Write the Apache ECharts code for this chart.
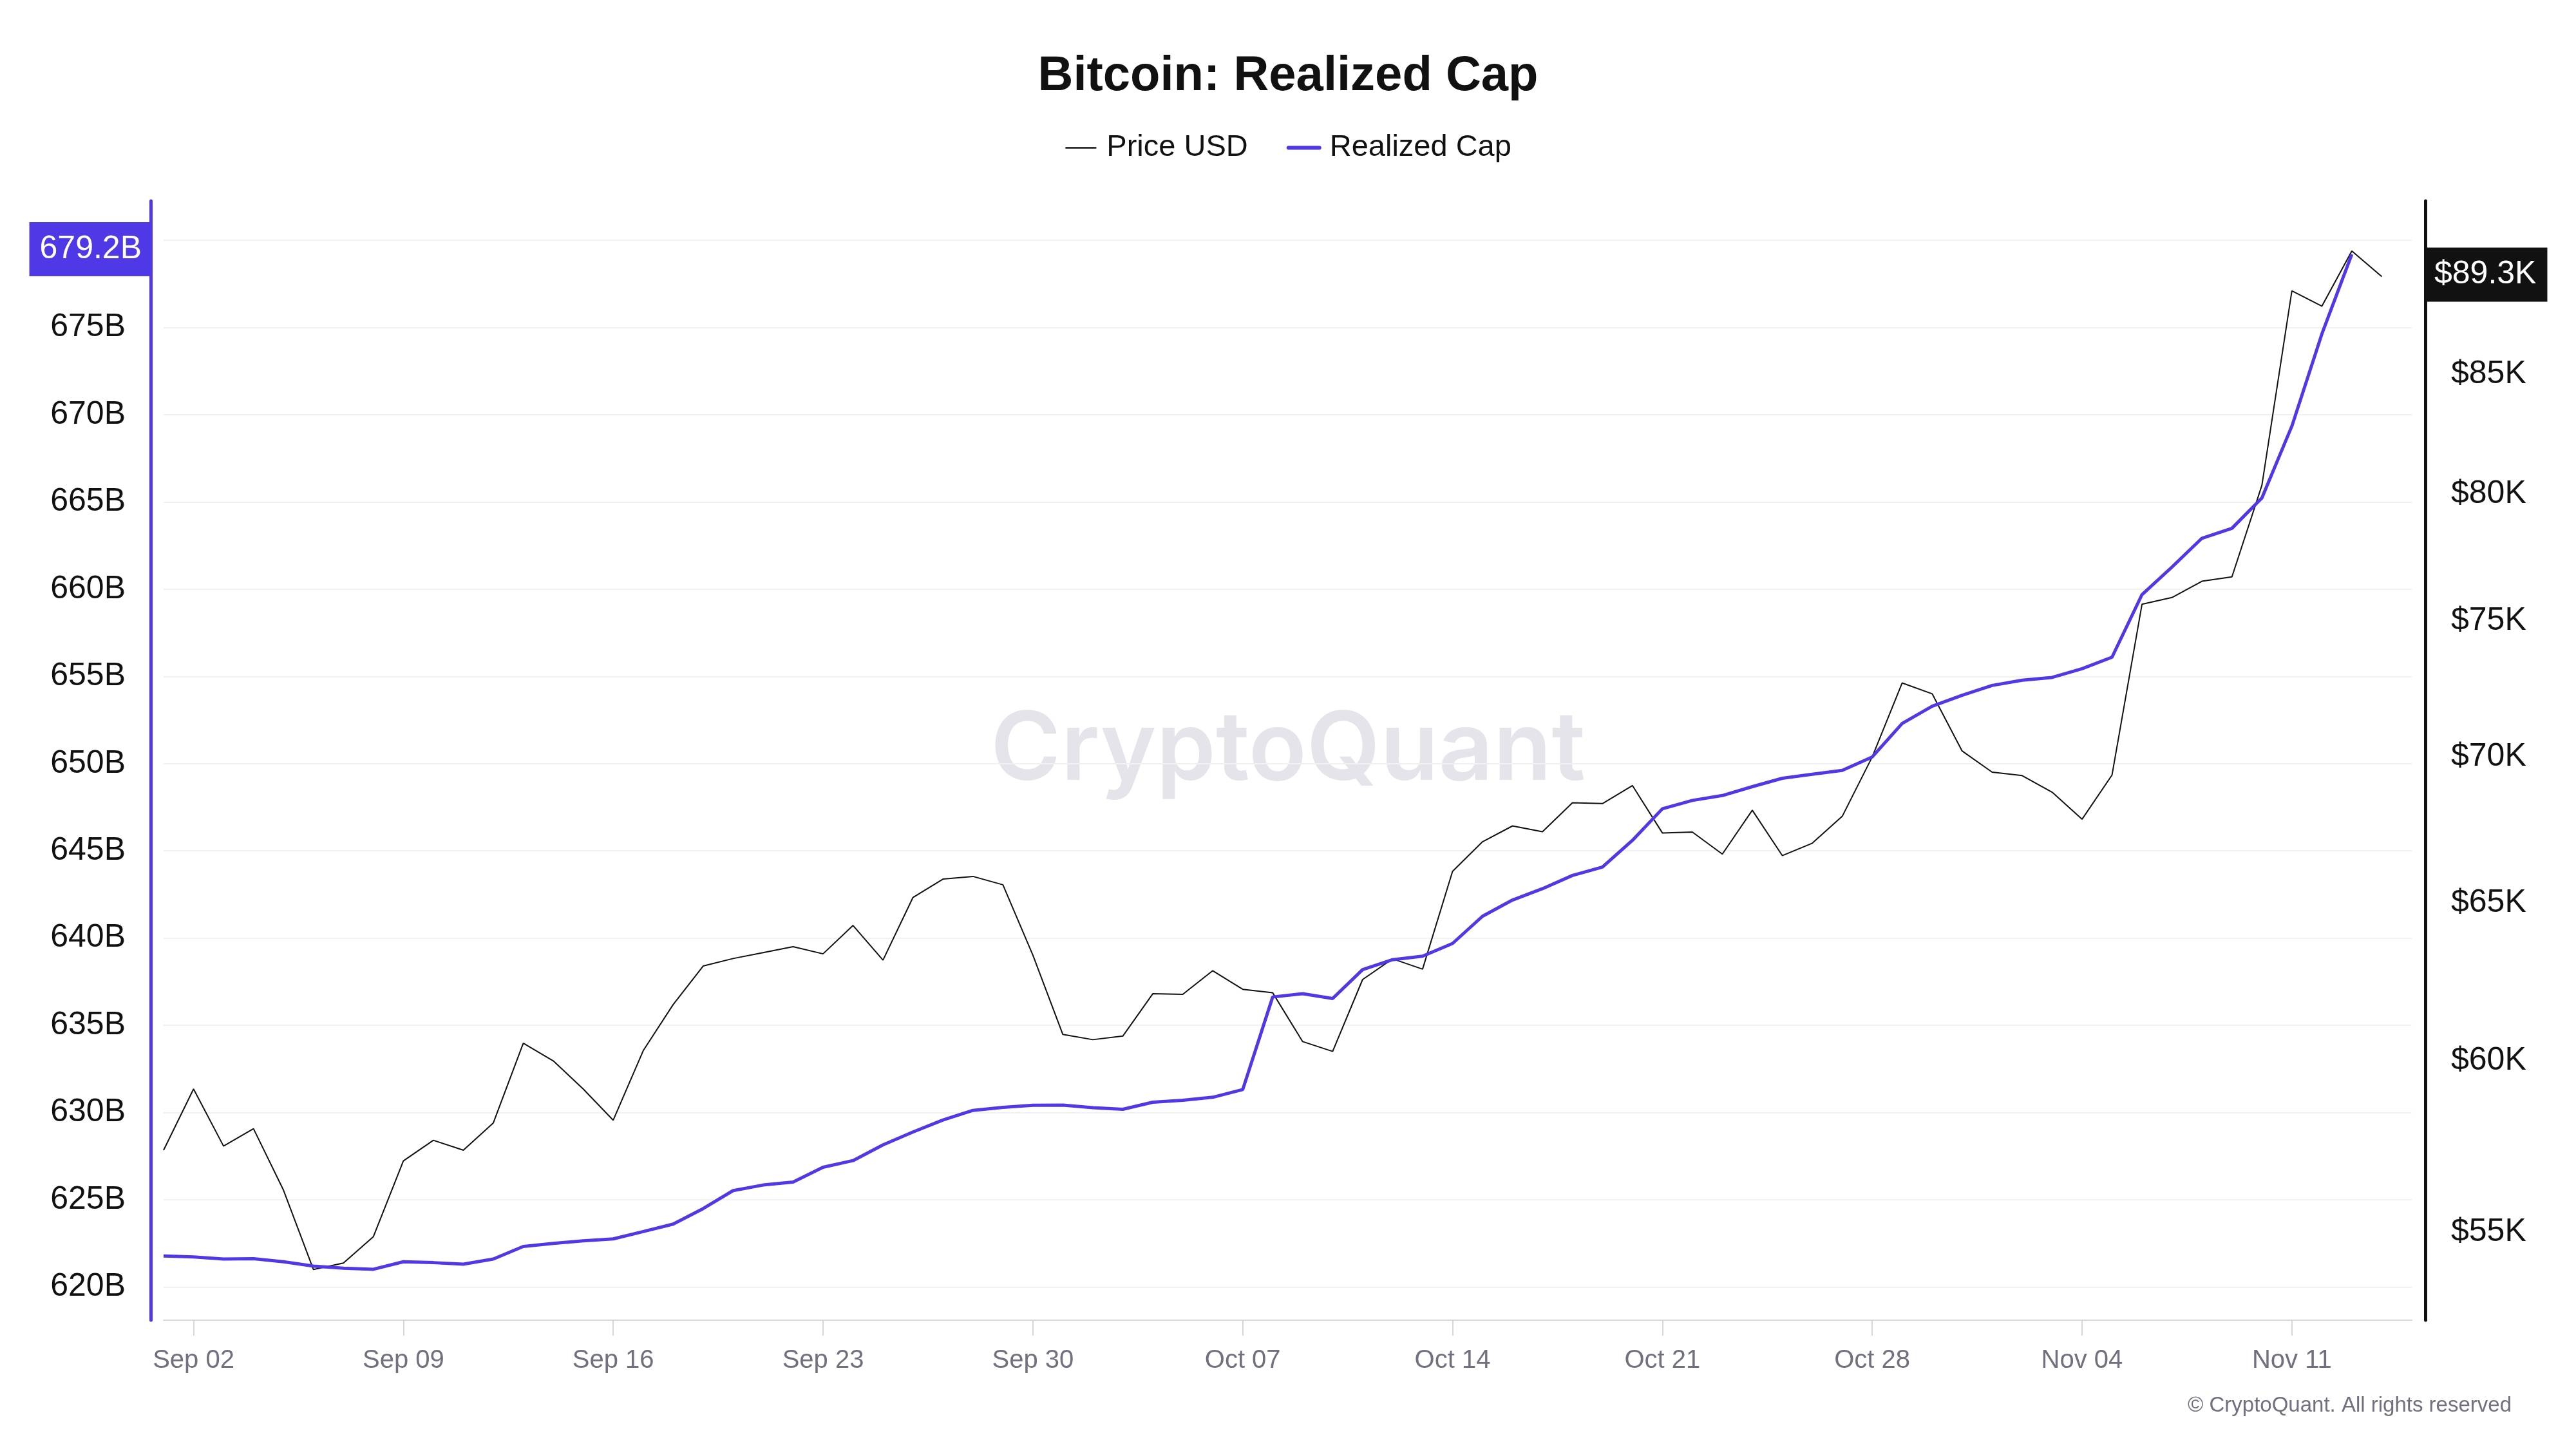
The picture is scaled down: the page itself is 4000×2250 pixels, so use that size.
<!DOCTYPE html>
<html>
<head>
<meta charset="utf-8">
<script src="https://cdn.jsdelivr.net/npm/echarts@6/dist/echarts.min.js"></script>
<style>
html,body{margin:0;padding:0;background:#ffffff;}
#chart{width:4000px;height:2250px;}
</style>
</head>
<body>
<div id="chart"></div>
<script>
// ---- Data ----
const dates = [
  'Sep 01','Sep 02','Sep 03','Sep 04','Sep 05','Sep 06','Sep 07','Sep 08','Sep 09','Sep 10',
  'Sep 11','Sep 12','Sep 13','Sep 14','Sep 15','Sep 16','Sep 17','Sep 18','Sep 19','Sep 20',
  'Sep 21','Sep 22','Sep 23','Sep 24','Sep 25','Sep 26','Sep 27','Sep 28','Sep 29','Sep 30',
  'Oct 01','Oct 02','Oct 03','Oct 04','Oct 05','Oct 06','Oct 07','Oct 08','Oct 09','Oct 10',
  'Oct 11','Oct 12','Oct 13','Oct 14','Oct 15','Oct 16','Oct 17','Oct 18','Oct 19','Oct 20',
  'Oct 21','Oct 22','Oct 23','Oct 24','Oct 25','Oct 26','Oct 27','Oct 28','Oct 29','Oct 30',
  'Oct 31','Nov 01','Nov 02','Nov 03','Nov 04','Nov 05','Nov 06','Nov 07','Nov 08','Nov 09',
  'Nov 10','Nov 11','Nov 12','Nov 13','Nov 14','Nov 15'
];
const xTickLabels = ['Sep 02','Sep 09','Sep 16','Sep 23','Sep 30','Oct 07','Oct 14','Oct 21','Oct 28','Nov 04','Nov 11'];

// Price USD (right axis, log scale)
const priceUSD = [
  57330, 59140, 57450, 57960, 56180, 53960, 54140, 54870, 57020, 57620,
  57330, 58130, 60530, 59990, 59140, 58210, 60300, 61730, 62950, 63190,
  63380, 63570, 63340, 64260, 63140, 65180, 65790, 65880, 65600, 63300,
  60800, 60640, 60750, 62070, 62050, 62800, 62210, 62100, 60580, 60280,
  62520, 63180, 62850, 66050, 67050, 67590, 67390, 68390, 68360, 68990,
  67350, 67380, 66630, 68130, 66580, 67000, 67920, 70000, 72680, 72280,
  70210, 69460, 69340, 68760, 67820, 69360, 75640, 75900, 76530, 76700,
  80350, 88690, 88000, 90500, 89330
];

// Realized Cap in billions USD (left axis)
const realizedCapB = [
  621.77, 621.72, 621.60, 621.62, 621.44, 621.19, 621.07, 621.01, 621.44, 621.39,
  621.30, 621.60, 622.32, 622.49, 622.64, 622.75, 623.17, 623.60, 624.49, 625.52,
  625.84, 626.01, 626.86, 627.24, 628.14, 628.88, 629.57, 630.12, 630.29, 630.41,
  630.42, 630.27, 630.18, 630.59, 630.70, 630.87, 631.31, 636.62, 636.81, 636.53,
  638.19, 638.76, 638.96, 639.69, 641.25, 642.18, 642.83, 643.59, 644.07, 645.60,
  647.41, 647.89, 648.17, 648.68, 649.16, 649.39, 649.61, 650.38, 652.30, 653.29,
  653.92, 654.48, 654.78, 654.94, 655.44, 656.10, 659.69, 661.27, 662.92, 663.49,
  665.23, 669.35, 674.63, 679.20
];

const leftTicks = [620, 625, 630, 635, 640, 645, 650, 655, 660, 665, 670, 675, 680];
const leftTickLabels = [620, 625, 630, 635, 640, 645, 650, 655, 660, 665, 670, 675];
const rightTickLabels = [55000, 60000, 65000, 70000, 75000, 80000, 85000];

const lastCap = realizedCapB[realizedCapB.length - 1];
const lastPrice = priceUSD[priceUSD.length - 1];

const FONT = '"Liberation Sans", Arial, sans-serif';
const PURPLE = '#4f39e6';
const INK = '#111111';

const chart = echarts.init(document.getElementById('chart'), null, {renderer: 'canvas', width: 4000, height: 2250});

chart.setOption({
  animation: false,
  backgroundColor: '#ffffff',
  textStyle: {fontFamily: FONT},
  title: {
    text: 'Bitcoin: Realized Cap',
    left: 'center',
    top: 76,
    textStyle: {fontSize: 76, fontWeight: 'bold', color: INK, fontFamily: FONT}
  },
  legend: {
    top: 201,
    left: 'center',
    itemWidth: 48,
    itemHeight: 20,
    itemGap: 60,
    itemStyle: {opacity: 0},
    textStyle: {fontSize: 47, color: INK, fontFamily: FONT, padding: [0, 0, 0, 11]},
    data: [
      {name: 'Price USD', lineStyle: {width: 2.5, color: INK}},
      {name: 'Realized Cap', lineStyle: {width: 6, color: PURPLE, cap: 'round'}}
    ]
  },
  grid: {left: 254, right: 255, top: 312, bottom: 200, containLabel: false},
  xAxis: {
    type: 'category',
    data: dates,
    boundaryGap: false,
    axisLine: {show: true, lineStyle: {color: '#d6d6de', width: 2}},
    axisTick: {
      show: true,
      length: 24,
      interval: function (idx, val) { return xTickLabels.indexOf(val) >= 0; },
      lineStyle: {color: '#d6d6de', width: 2}
    },
    axisLabel: {
      interval: function (idx, val) { return xTickLabels.indexOf(val) >= 0; },
      fontSize: 40,
      color: '#70707e',
      margin: 43,
      fontFamily: FONT
    },
    splitLine: {show: false}
  },
  yAxis: [
    {
      type: 'value',
      position: 'left',
      offset: 20,
      min: 618.09,
      max: 682.26,
      axisLine: {show: true, lineStyle: {color: PURPLE, width: 5}},
      axisTick: {show: false, customValues: leftTicks},
      axisLabel: {
        customValues: leftTickLabels,
        formatter: function (v) { return v + 'B'; },
        fontSize: 50,
        color: INK,
        margin: 39,
        fontFamily: FONT
      },
      splitLine: {show: true, lineStyle: {color: '#f1f1f4', width: 2}}
    },
    {
      type: 'log',
      logBase: 10,
      position: 'right',
      offset: 21,
      min: 52590,
      max: 92830,
      axisLine: {show: true, lineStyle: {color: INK, width: 5}},
      axisTick: {show: false, customValues: rightTickLabels},
      axisLabel: {
        customValues: rightTickLabels,
        formatter: function (v) { return '$' + Math.round(v / 1000) + 'K'; },
        fontSize: 50,
        color: INK,
        margin: 40,
        fontFamily: FONT
      },
      splitLine: {show: false}
    }
  ],
  graphic: [
    {
      type: 'text',
      x: 2000,
      y: 1166,
      z: 0,
      silent: true,
      style: {
        text: 'CryptoQuant',
        font: '600 148px Inter, "Liberation Sans", sans-serif',
        fill: '#e4e4ea',
        textAlign: 'center',
        textVerticalAlign: 'middle'
      }
    },
    {
      type: 'text',
      x: 3900,
      y: 2183,
      silent: true,
      style: {
        text: '\u00A9 CryptoQuant. All rights reserved',
        font: '33px "Liberation Sans", Arial, sans-serif',
        fill: '#70707e',
        textAlign: 'right',
        textVerticalAlign: 'middle'
      }
    }
  ],
  series: [
    {
      name: 'Price USD',
      type: 'line',
      yAxisIndex: 1,
      data: priceUSD,
      symbol: 'none',
      showSymbol: false,
      lineStyle: {color: INK, width: 2},
      itemStyle: {color: INK},
      z: 3,
      markLine: {
        silent: true,
        symbol: ['none', 'none'],
        lineStyle: {color: 'rgba(0,0,0,0)', width: 1, type: 'solid'},
        label: {
          show: true,
          position: 'end',
          distance: 21,
          offset: [0, -3],
          formatter: '$' + (lastPrice / 1000).toFixed(1) + 'K',
          backgroundColor: INK,
          color: '#ffffff',
          fontSize: 50,
          lineHeight: 50,
          fontFamily: FONT,
          padding: [17, 17, 17, 14]
        },
        data: [{yAxis: lastPrice}]
      }
    },
    {
      name: 'Realized Cap',
      type: 'line',
      yAxisIndex: 0,
      data: realizedCapB,
      symbol: 'none',
      showSymbol: false,
      lineStyle: {color: PURPLE, width: 5},
      itemStyle: {color: PURPLE},
      z: 4,
      markLine: {
        silent: true,
        symbol: ['none', 'none'],
        lineStyle: {color: 'rgba(0,0,0,0)', width: 1, type: 'solid'},
        label: {
          show: true,
          position: 'start',
          distance: 22,
          offset: [0, -8],
          formatter: lastCap.toFixed(1) + 'B',
          backgroundColor: PURPLE,
          color: '#ffffff',
          fontSize: 50,
          lineHeight: 50,
          fontFamily: FONT,
          padding: [17, 12, 17, 16]
        },
        data: [{yAxis: lastCap}]
      }
    }
  ]
});
</script>
</body>
</html>
